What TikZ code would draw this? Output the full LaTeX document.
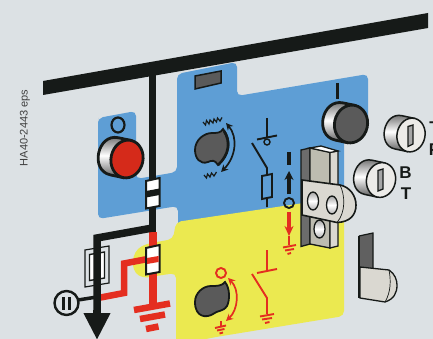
\documentclass[tikz,border=0pt]{standalone}
\usepackage{fontspec}
\setmainfont{Liberation Sans}
\usetikzlibrary{arrows.meta}
\definecolor{bgcol}{HTML}{DCE1E4}
\definecolor{panelblue}{HTML}{5E9ED5}
\definecolor{panelyellow}{HTML}{EBE950}
\definecolor{busblack}{HTML}{161A18}
\definecolor{linered}{HTML}{E42E20}
\definecolor{knobred}{HTML}{D52A1A}
\definecolor{knobgrey}{HTML}{5A5A5A}
\definecolor{partgrey}{HTML}{BDBCB0}
\definecolor{partlight}{HTML}{DAD8D1}
% x y facewidth faceheight depth facecolour linewidth
\newcommand{\knobpart}[7]{
  \begin{scope}[shift={(#1,#2)}, rotate=-12, line width=#7pt, draw=busblack]
    \draw[top color=gray!70!black, bottom color=gray!70!black, middle color=white]
      (0,-#4) -- (-#5,-#4) .. controls (-#5-1.33*#3,-#4) and (-#5-1.33*#3,#4) .. (-#5,#4) -- (0,#4) -- cycle;
    \draw[fill=#6] (0,0) ellipse [x radius=#3, y radius=#4];
  \end{scope}
}
\begin{document}
\begin{tikzpicture}[
  x=1pt, y=-1pt,
  wire/.style={draw=busblack, line width=7.5pt, line join=miter},
  redwire/.style={draw=linered, line width=6.5pt, line join=miter},
  sym/.style={draw=busblack, line width=1.9pt},
  redsym/.style={draw=linered, line width=1.9pt},
  contact/.style={draw=busblack, fill=white, line width=2pt},
  metal/.style={draw=busblack, line width=1.3pt},
  hole/.style={metal, top color=gray!70, bottom color=gray!60, middle color=white},
  letter/.style={font=\fontsize{17}{17}\selectfont\bfseries, text=busblack, inner sep=0pt},
  turn/.style={{Stealth[length=7pt,width=7pt]}-{Stealth[length=7pt,width=7pt]}},
]
\useasboundingbox (0,0) rectangle (433,339);
\fill[bgcol] (0,0) rectangle (433,339);

% panels
\fill[panelblue, rounded corners=5pt] (98,123) -- (98,118) -- (136,111) -- (136,179) -- (177,172)
  -- (177,74) -- (237,62) -- (237,96) -- (368,74) -- (368,123) -- (344,135) -- (344,215)
  -- (178,230) -- (178,206) -- (98,219) -- cycle;
\fill[panelyellow, rounded corners=5pt] (176,345) -- (176,273) -- (143,278) .. controls (130,270) and (131,252) .. (146,244)
  -- (173,239) -- (176,222) -- (344,197) -- (344,316) -- (216,337) -- (176,345) -- cycle;

% bus and feeder
\fill[busblack] (43,81) -- (428,13) -- (428,28) -- (43,95) -- cycle;
\draw[wire] (152.5,75) -- (152.5,232);
\draw[redwire, line width=7.5pt] (153,232) -- (153,304);
\draw[redwire] (153,258) -- (124,263.5) -- (124,293) -- (98,298);

% fuse on the feeder
\draw[draw=busblack, line width=1.2pt] (85,250) -- (109,246) -- (109,283) -- (85,287) -- cycle;
\draw[contact, line width=1.4pt] (89.5,254.5) -- (104.5,252) -- (104.5,278) -- (89.5,280.5) -- cycle;
\draw[wire] (152.5,228) -- (97,238) -- (97,320);
\draw[draw=busblack, line width=7.5pt, -{Triangle[length=27pt,width=25pt]}] (97,310) -- (97,340);

% earth under the feeder
\draw[redwire] (134,310) -- (170,303.5);
\draw[redwire] (140,319) -- (165,314.5);
\draw[redwire] (146,329) -- (158.5,326.5);

% contacts
\draw[contact] (146,181) -- (159.5,178) -- (159.5,206) -- (146,208.5) -- cycle;
\fill[busblack] (146,191) -- (159.5,188.5) -- (159.5,195) -- (146,197.5) -- cycle;
\draw[contact] (146,248) -- (159.5,245) -- (159.5,272) -- (146,274.5) -- cycle;
\fill[linered] (147,258) -- (158.5,256) -- (158.5,262) -- (147,264) -- cycle;

% disconnector circle
\draw[busblack, line width=3.5pt] (78,300) -- (97,297);
\draw[busblack, line width=2.4pt, fill=bgcol] (66.5,303) circle [radius=12];
\draw[busblack, line width=2.8pt] (63.5,297) -- (63.5,310);
\draw[busblack, line width=2.8pt] (69.5,297) -- (69.5,310);

% red button with its mark
\draw[busblack, line width=2.2pt] (118,125) circle [x radius=6.5, y radius=7.5];
\knobpart{127}{159}{16}{19}{13}{knobred}{2.8}

% closing knob with its mark
\draw[busblack, line width=3pt] (337.5,83) -- (337.5,99);
\knobpart{351}{124}{16.5}{19}{12}{knobgrey}{2.8}

% window
\draw[busblack, fill=knobgrey, line width=1.5pt] (195,76) -- (221,71) -- (221,83) -- (195,89) -- cycle;

% spring cam
\draw[busblack, fill=knobgrey, line width=1.8pt] (195,150) .. controls (195,140) and (204,133) .. (212,133)
  .. controls (217,133) and (221,133) .. (223,129) .. controls (232,140) and (230,155) .. (218,165)
  .. controls (215,160) and (212,160) .. (208,162) .. controls (200,165) and (195,158) .. (195,150) -- cycle;
\draw[busblack, line width=2.6pt] (224,131) .. controls (231,142) and (229,155) .. (218,165);
\draw[turn, busblack, line width=1.7pt] (226,123) .. controls (238,137) and (236,157) .. (221,172);
\draw[busblack, line width=1.2pt] (203,122) -- (205.5,125) -- (206.5,120.5) -- (209,124) -- (210,120) -- (213,123)
  -- (214,119) -- (216.5,122) -- (217.5,118) -- (220,121) -- (222,117.5);
\draw[busblack, line width=1.2pt] (204,175) -- (206.5,178) -- (207.5,174) -- (210,177) -- (211.5,173) -- (214,176) -- (216.5,172);

% switch on blue
\draw[sym] (267,118) -- (267,138);
\draw[sym] (257,139.5) -- (277,135.5);
\draw[sym, line width=1.4pt] (267,142) circle [radius=3];
\draw[sym] (252,143) -- (267,168) -- (267,207);
\draw[sym, fill=panelblue] (262,176) -- (272,174) -- (272,197) -- (262,199) -- cycle;

% earthing cam
\draw[busblack, fill=knobgrey, line width=1.8pt] (195,302) .. controls (195,293) and (203,286) .. (211,286)
  .. controls (217,286) and (222,286) .. (225,282) .. controls (230,288) and (230,300) .. (227,306)
  .. controls (223,312) and (218,310) .. (213,314) .. controls (207,318) and (195,318) .. (195,302) -- cycle;
\draw[linered, line width=1.9pt] (221,273) circle [radius=5];
\draw[turn, linered, line width=1.7pt] (228,278) .. controls (240,290) and (238,310) .. (226,321);
\draw[redsym] (221,321) -- (221,327);
\draw[redsym] (215,328) -- (226,325.5);
\draw[redsym] (217,330.5) -- (224.5,329);
\draw[redsym] (219.5,333.5) -- (223,332.5);

% switch on yellow
\draw[redsym] (267,250) -- (267,271);
\draw[redsym] (257,273) -- (277,269);
\draw[redsym] (252,274) -- (267,298) -- (267,314);
\draw[redsym] (260,316.5) -- (274,314);
\draw[redsym] (262,319.5) -- (272,318);
\draw[redsym] (265,323) -- (269.5,322);

% position marks
\draw[busblack, line width=4pt] (289,152) -- (289,165);
\draw[busblack, line width=3.5pt, -{Stealth[length=9pt,width=9pt]}] (289,194) -- (289,171);
\draw[busblack, line width=1.9pt] (289,203) circle [radius=5];
\draw[linered, line width=3.5pt, -{Stealth[length=10pt,width=9pt]}] (289,212) -- (289,236);
\draw[redsym] (289,236) -- (289,245);
\draw[redsym] (283,247.5) -- (296,245);
\draw[redsym] (285,250.5) -- (294,249);
\draw[redsym] (287.5,254) -- (291,253);

% bracket
\draw[metal, fill=gray!85!black] (301,150) -- (310,148) -- (310,244) -- (301,246.5) -- cycle;
\draw[metal, fill=partgrey] (310,148) -- (330,152) -- (330,248) -- (310,244) -- cycle;
\draw[metal, fill=partlight] (330,152) -- (338,151) -- (338,246) -- (330,248) -- cycle;
\draw[metal, fill=white] (310,148) -- (321,146) -- (338,151) -- (330,152.5) -- cycle;
\draw[metal, fill=partlight, line width=1.6pt] (302,180) -- (340,185) .. controls (350,187) and (356,196) .. (356,205)
  .. controls (356,215) and (350,222) .. (337,222.5) -- (302,215) -- cycle;
\draw[metal, line width=.7pt] (340,185) .. controls (345,195) and (346,212) .. (337,222.5);
\draw[hole] (313,201) circle [x radius=5.5, y radius=9];
\draw[hole] (332,205) circle [x radius=5.5, y radius=9];
\draw[hole] (319.5,229) circle [x radius=5.5, y radius=9];

% key locks
\knobpart{411}{135}{14}{17}{13}{partlight!50!white}{1.5}
\draw[metal, fill=gray!70] (408,126.5) -- (413,125) -- (413,144) -- (408,146.5) -- cycle;
\knobpart{381}{180}{14.5}{17.5}{13}{partlight!50!white}{1.5}
\draw[metal, fill=gray!70] (378,170.5) -- (383,169) -- (383,189) -- (378,191) -- cycle;
\node[letter] (lockT) at (434.5,128) {T};
\node[letter] (lockP) at (434.5,149.5) {P};
\node[letter] (lockB) at (405.5,172.5) {B};
\node[letter] (lockF) at (406,194) {T};

% lever
\fill[gray!75!black] (359,236) -- (373,233) -- (373,268) -- (359,267) -- cycle;
\draw[busblack, line width=1.2pt] (359,236) -- (373,233) -- (373,268);
\draw[busblack, line width=1.6pt] (359,236) -- (359,298);
\draw[metal, fill=partlight] (360,267) -- (389,270) .. controls (395,274) and (397,280) .. (397,285)
  .. controls (397,293) and (394,299) .. (385,302) -- (360,298) -- cycle;
\draw[metal, line width=.7pt] (389,270) .. controls (391,280) and (391,292) .. (385,302);

\node[font=\fontsize{11}{11}\selectfont, text=black!75, rotate=90, inner sep=0pt] (docref) at (25,128) {HA40-2443 eps};
\end{tikzpicture}
\end{document}
